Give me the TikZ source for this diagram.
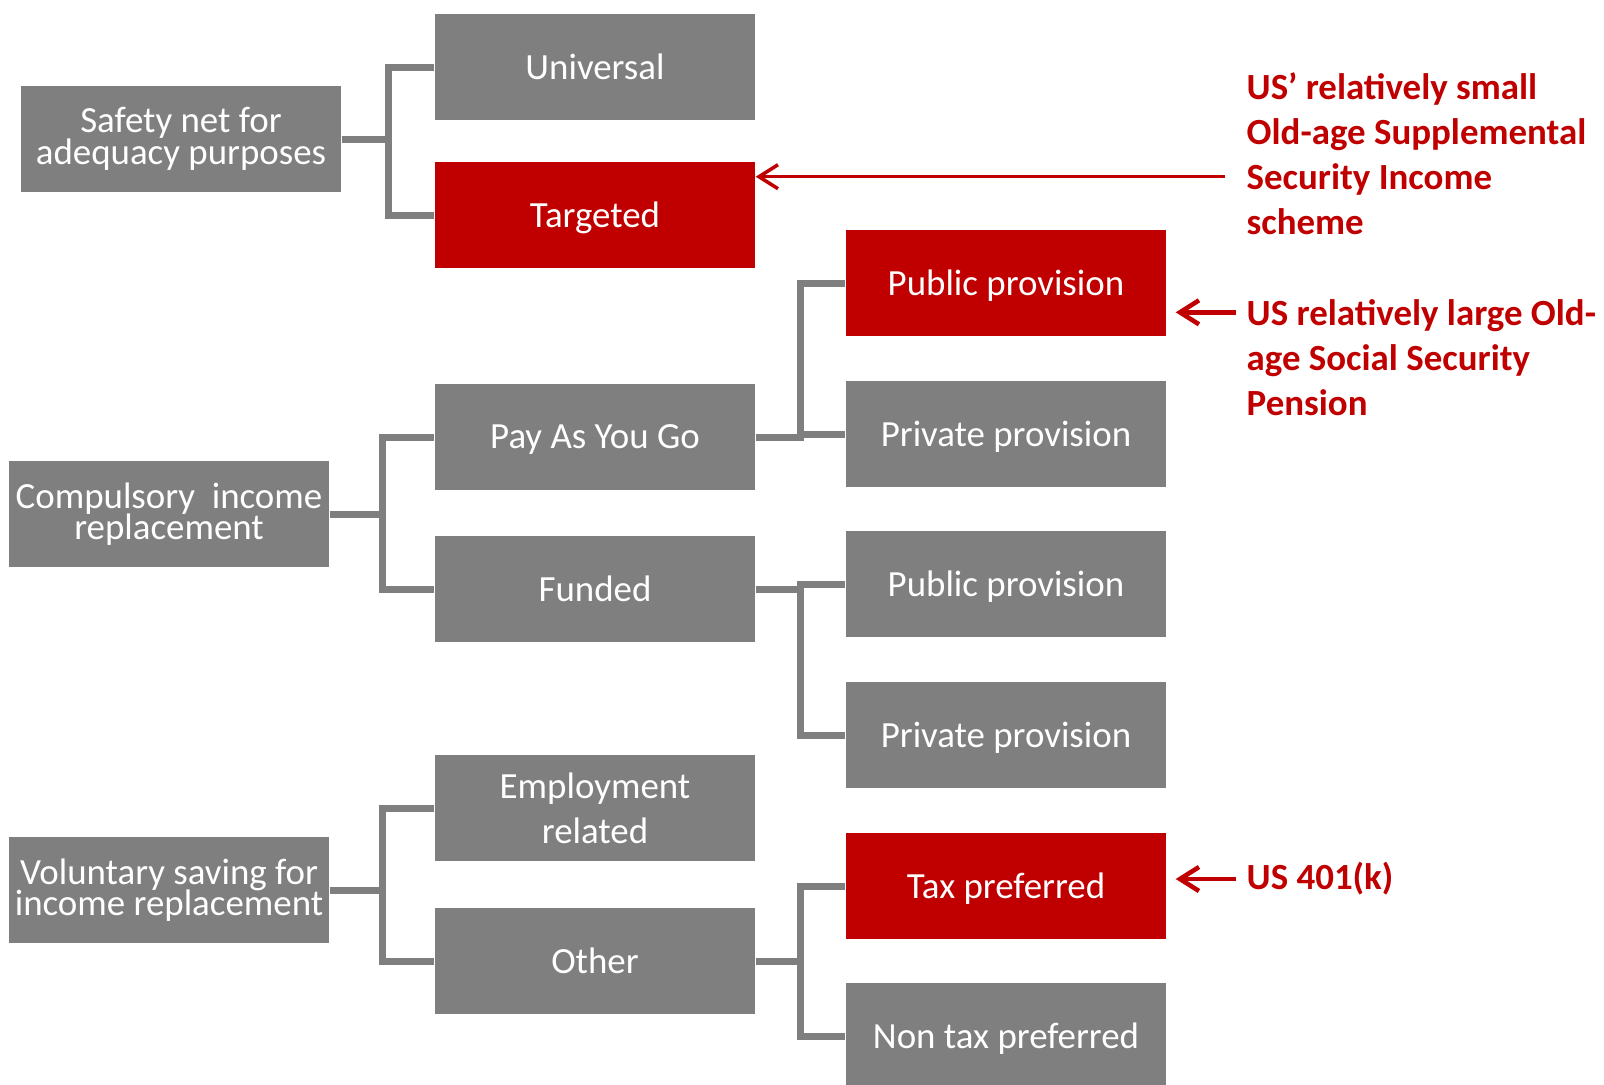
\documentclass[tikz,border=0pt]{standalone}
\usepackage{fontspec}
\setmainfont{Carlito}
\usetikzlibrary{arrows.meta}
\definecolor{boxgray}{HTML}{7F7F7F}
\definecolor{usred}{HTML}{C00000}
\newcommand\tightlines{\lineskiplimit=-20pt\relax}

\begin{document}
\begin{tikzpicture}[
    base/.style={rectangle, fill=boxgray, text=white, minimum width=3.2cm, minimum height=1.06cm,
        inner sep=0pt, align=center, font=\fontsize{10.5}{9}\selectfont\tightlines},
    box/.style={base, text depth=0pt},
    hot/.style={box, fill=usred},
    link/.style={draw=boxgray, line width=2pt},
    note/.style={draw=usred, line width=1.3pt, -{Straight Barb[length=1.9mm,width=2.4mm]}},
    remark/.style={text=usred, align=left, anchor=west, inner sep=0pt,
        font=\bfseries\fontsize{10.5}{12.8}\selectfont}]
        \useasboundingbox (0,0) rectangle (16.04,-10.84);
        % first column
        \node[base] (safety) at (1.81,-1.39) {Safety net for\\adequacy purposes};
        \node[base] (compulsory) at (1.69,-5.14) {Compulsory~ income\\replacement};
        \node[base] (voluntary) at (1.69,-8.90) {Voluntary saving for\\income replacement};
        % second column
        \node[box] (universal) at (5.95,-0.67) {Universal};
        \node[hot] (targeted) at (5.95,-2.15) {Targeted};
        \node[box] (payg) at (5.95,-4.37) {Pay As You Go};
        \node[box] (funded) at (5.95,-5.89) {Funded};
        \node[base, font=\fontsize{10.5}{12.8}\selectfont] (employment) at (5.95,-8.08) {Employment\\related};
        \node[box] (other) at (5.95,-9.61) {Other};
        % third column
        \node[hot] (pubA) at (10.06,-2.83) {Public provision};
        \node[box] (privA) at (10.06,-4.34) {Private provision};
        \node[box] (pubB) at (10.06,-5.84) {Public provision};
        \node[box] (privB) at (10.06,-7.35) {Private provision};
        \node[hot] (taxpref) at (10.06,-8.86) {Tax preferred};
        \node[box] (nontax) at (10.06,-10.36) {Non tax preferred};
        % elbows
        \draw[link] (safety.east) -- ++(0.47,0) |- (universal.west);
        \draw[link] (safety.east) -- ++(0.47,0) |- (targeted.west);
        \draw[link] (compulsory.east) -- ++(0.53,0) |- (payg.west);
        \draw[link] (compulsory.east) -- ++(0.53,0) |- (funded.west);
        \draw[link] (voluntary.east) -- ++(0.53,0) |- (employment.west);
        \draw[link] (voluntary.east) -- ++(0.53,0) |- (other.west);
        \draw[link] (payg.east) -- ++(0.45,0) |- (pubA.west);
        \draw[link] (payg.east) -- ++(0.45,0) |- (privA.west);
        \draw[link] (funded.east) -- ++(0.45,0) |- (pubB.west);
        \draw[link] (funded.east) -- ++(0.45,0) |- (privB.west);
        \draw[link] (other.east) -- ++(0.45,0) |- (taxpref.west);
        \draw[link] (other.east) -- ++(0.45,0) |- (nontax.west);
        % US notes
        \node[remark] (noteA) at (12.46,-1.54) {US’ relatively small\\Old-age Supplemental\\Security Income\\scheme};
        \node[remark] (noteB) at (12.46,-3.58) {US relatively large Old-\\age Social Security\\Pension};
        \node[remark] (noteC) at (12.46,-8.79) {US 401(k)};
        \coordinate (a1) at (12.25,-1.767);
        \coordinate (a2) at (12.36,-3.123);
        \coordinate (a3) at (12.36,-8.79);
        \draw[note, line width=1pt] (a1) -- (a1 -| targeted.east);
        \draw[note] (a2) -- ([xshift=0.09cm]a2 -| pubA.east);
        \draw[note] (a3) -- ([xshift=0.09cm]a3 -| taxpref.east);
    \end{tikzpicture}
\end{document}
